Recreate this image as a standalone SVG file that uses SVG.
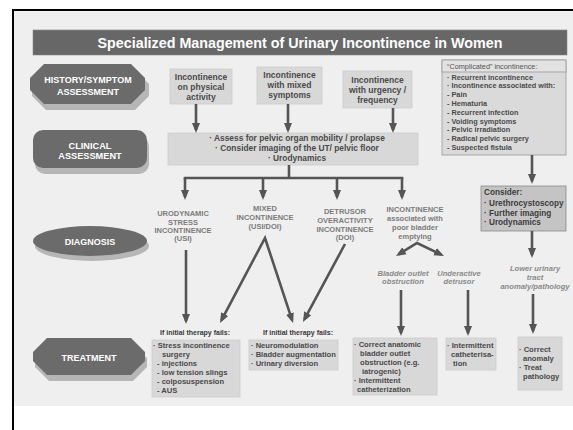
<svg xmlns="http://www.w3.org/2000/svg" width="573" height="430" viewBox="0 0 573 430">
<defs>
<style>
text{font-family:"Liberation Sans",Arial,sans-serif;font-weight:bold;fill:#4a4a4a}
.lab{fill:#fff;font-size:9px;text-anchor:middle}
.hdr{fill:#6b6b6b}
.shd{fill:#b6b6b6}
.box{fill:#d8d8d8;stroke:#cdcdcd;stroke-width:0.8}
.b1{font-size:8.5px;text-anchor:middle}
.cl{font-size:8.4px;text-anchor:middle}
.cx{font-size:7.3px}
.cs{font-size:8.2px;fill:#3c3c3c}
.dg{font-size:7.5px;text-anchor:middle;fill:#7c7c7c}
.it{font-size:7.6px;text-anchor:middle;fill:#8a8a8a;font-style:italic}
.tf{font-size:7px;fill:#3a3a3a}
.tb{font-size:7.6px}
.arr{stroke:#555;stroke-width:2.6;fill:none;marker-end:url(#ah)}
.ln{stroke:#555;stroke-width:2.6;fill:none}
</style>
<marker id="ah" viewBox="0 0 10 10" refX="7" refY="5" markerWidth="10" markerHeight="10" markerUnits="userSpaceOnUse" orient="auto-start-reverse">
<path d="M0,1 L10,5 L0,9 Z" fill="#555"/>
</marker>
</defs>
<rect x="0" y="0" width="573" height="430" fill="#fff"/>
<rect x="14" y="11" width="559" height="395" fill="#efefef"/>
<line x1="12" y1="10" x2="573" y2="10" stroke="#000" stroke-width="2"/>
<line x1="13" y1="9" x2="13" y2="430" stroke="#000" stroke-width="2"/>

<g id="title">
<rect x="33" y="30" width="534" height="25" fill="#676767" stroke="#888" stroke-width="0.6"/>
<text x="300" y="47.5" style="font-size:14.3px;fill:#fff;text-anchor:middle">Specialized Management of Urinary Incontinence in Women</text>
</g>

<g id="history-label">
<path class="shd" d="M46,70 L135,70 L149,84 L149,96 L135,110 L46,110 L32,96 L32,84 Z"/>
<path class="hdr" d="M44,64 L131,64 L145,78 L145,90 L131,104 L44,104 L30,90 L30,78 Z"/>
<text class="lab" x="88" y="83">HISTORY/SYMPTOM</text>
<text class="lab" x="88" y="95">ASSESSMENT</text>
</g>

<g id="clinical-label">
<rect class="shd" x="35" y="136" width="114" height="38" rx="10"/>
<rect class="hdr" x="33" y="130" width="114" height="38" rx="10"/>
<text class="lab" x="90" y="148.5" style="font-size:9.2px">CLINICAL</text>
<text class="lab" x="90" y="158.5" style="font-size:9.2px">ASSESSMENT</text>
</g>

<g id="diagnosis-label">
<ellipse class="shd" cx="92" cy="246" rx="57" ry="15"/>
<ellipse class="hdr" cx="90" cy="241" rx="57" ry="15"/>
<text class="lab" x="90" y="244.5">DIAGNOSIS</text>
</g>

<g id="treatment-label">
<path class="shd" d="M49,344 L133,344 L147,358 L147,367 L133,381 L49,381 L35,367 L35,358 Z"/>
<path class="hdr" d="M47,338 L131,338 L145,352 L145,361 L131,375 L47,375 L33,361 L33,352 Z"/>
<text class="lab" x="89" y="360.5">TREATMENT</text>
</g>

<g id="sym-physical">
<rect class="box" x="170" y="69" width="62" height="35"/>
<text class="b1" x="201" y="80">Incontinence</text>
<text class="b1" x="201" y="90">on physical</text>
<text class="b1" x="201" y="100">activity</text>
</g>
<g id="sym-mixed">
<rect class="box" x="257" y="67" width="65" height="37"/>
<text class="b1" x="289.5" y="78">Incontinence</text>
<text class="b1" x="289.5" y="88">with mixed</text>
<text class="b1" x="289.5" y="98">symptoms</text>
</g>
<g id="sym-urgency">
<rect class="box" x="343" y="71" width="69" height="37"/>
<text class="b1" x="377.5" y="83">Incontinence</text>
<text class="b1" x="377.5" y="93">with urgency /</text>
<text class="b1" x="377.5" y="103">frequency</text>
</g>

<g id="complicated">
<rect x="442" y="60" width="124" height="95" fill="#dadada" stroke="#9a9a9a" stroke-width="0.8"/>
<rect x="442" y="60" width="124" height="12" fill="#e2e2e2" stroke="#9a9a9a" stroke-width="0.8"/>
<text class="cx" x="447" y="69" style="font-weight:normal;fill:#555">“Complicated” incontinence:</text>
<text class="cx" x="447" y="79.6">· Recurrent incontinence</text>
<text class="cx" x="447" y="88.4">· Incontinence associated with:</text>
<text class="cx" x="447" y="97.2">- Pain</text>
<text class="cx" x="447" y="106">- Hematuria</text>
<text class="cx" x="447" y="114.8">- Recurrent infection</text>
<text class="cx" x="447" y="123.6">- Voiding symptoms</text>
<text class="cx" x="447" y="132.4">- Pelvic irradiation</text>
<text class="cx" x="447" y="141.2">- Radical pelvic surgery</text>
<text class="cx" x="447" y="150">- Suspected fistula</text>
</g>

<g id="clinical">
<rect class="box" x="168" y="133" width="250" height="32"/>
<text class="cl" x="297" y="141">· Assess for pelvic organ mobility / prolapse</text>
<text class="cl" x="297" y="151">· Consider imaging of the UT/ pelvic floor</text>
<text class="cl" x="297" y="161">· Urodynamics</text>
</g>

<g id="consider">
<rect x="481" y="186" width="85" height="45" fill="#c4c4c4" stroke="#8a8a8a" stroke-width="0.8"/>
<text class="cs" x="484" y="195">Consider:</text>
<text class="cs" x="484" y="206">· Urethrocystoscopy</text>
<text class="cs" x="484" y="215.5">· Further imaging</text>
<text class="cs" x="484" y="225">· Urodynamics</text>
</g>

<g id="dx-usi">
<text class="dg" x="183" y="215.7">URODYNAMIC</text>
<text class="dg" x="183" y="224.5">STRESS</text>
<text class="dg" x="183" y="233">INCONTINENCE</text>
<text class="dg" x="183" y="241">(USI)</text>
</g>
<g id="dx-mixed">
<text class="dg" x="265" y="210.7">MIXED</text>
<text class="dg" x="265" y="219.7">INCONTINENCE</text>
<text class="dg" x="265" y="228.7">(USI/DOI)</text>
</g>
<g id="dx-doi">
<text class="dg" x="345" y="213.7">DETRUSOR</text>
<text class="dg" x="345" y="222.7">OVERACTIVITY</text>
<text class="dg" x="345" y="231.7">INCONTINENCE</text>
<text class="dg" x="345" y="239.7">(DOI)</text>
</g>
<g id="dx-poor">
<text class="dg" x="415" y="211.7">INCONTINENCE</text>
<text class="dg" x="415" y="220.7">associated with</text>
<text class="dg" x="415" y="229.7">poor bladder</text>
<text class="dg" x="415" y="238.7">emptying</text>
</g>
<g id="dx-outlet">
<text class="it" x="403" y="275.7">Bladder outlet</text>
<text class="it" x="403" y="284">obstruction</text>
</g>
<g id="dx-underactive">
<text class="it" x="459" y="275.7">Underactive</text>
<text class="it" x="459" y="284">detrusor</text>
</g>
<g id="dx-lut">
<text class="it" x="535" y="270.7">Lower urinary</text>
<text class="it" x="535" y="279.7">tract</text>
<text class="it" x="535" y="288.7">anomaly/pathology</text>
</g>

<g id="fail-1"><text class="tf" x="160" y="334.5">If initial therapy fails:</text></g>
<g id="fail-2"><text class="tf" x="263" y="334.5">If initial therapy fails:</text></g>

<g id="tx-stress">
<rect class="box" x="152" y="340" width="88" height="57"/>
<text class="tb" x="153" y="348">· Stress incontinence</text>
<text class="tb" x="162" y="357">surgery</text>
<text class="tb" x="157" y="366">- injections</text>
<text class="tb" x="157" y="375">- low tension slings</text>
<text class="tb" x="157" y="384">- colposuspension</text>
<text class="tb" x="157" y="393">- AUS</text>
</g>
<g id="tx-doi">
<rect class="box" x="249" y="340" width="89" height="30"/>
<text class="tb" x="251" y="348">· Neuromodulation</text>
<text class="tb" x="251" y="357">· Bladder augmentation</text>
<text class="tb" x="251" y="366">· Urinary diversion</text>
</g>
<g id="tx-outlet">
<rect class="box" x="353" y="338" width="84" height="57"/>
<text class="tb" x="354" y="346.7">· Correct anatomic</text>
<text class="tb" x="360" y="355.7">bladder outlet</text>
<text class="tb" x="360" y="364.7">obstruction (e.g.</text>
<text class="tb" x="362" y="373.7">iatrogenic)</text>
<text class="tb" x="354" y="382.7">· Intermittent</text>
<text class="tb" x="357" y="391.7">catheterization</text>
</g>
<g id="tx-underactive">
<rect class="box" x="446" y="338" width="50" height="32"/>
<text class="tb" x="447" y="347.7">· Intermittent</text>
<text class="tb" x="451" y="356.7">catheterisa-</text>
<text class="tb" x="453" y="365.7">tion</text>
</g>
<g id="tx-lut">
<rect class="box" x="518" y="337" width="44" height="53"/>
<text class="tb" x="519" y="351.7">· Correct</text>
<text class="tb" x="523" y="360.7">anomaly</text>
<text class="tb" x="519" y="369.7">· Treat</text>
<text class="tb" x="523" y="379">pathology</text>
</g>

<g id="connectors">
<path class="arr" d="M196,104 V130"/>
<path class="arr" d="M288,104 V130"/>
<path class="arr" d="M393,108 V130"/>
<path class="ln" d="M289,165 V178 M183.7,178 H403.3"/>
<path class="arr" d="M185,178 V197"/>
<path class="arr" d="M263,178 V197"/>
<path class="arr" d="M337,178 V197"/>
<path class="arr" d="M402,178 V197"/>
<path class="arr" d="M532,155 V181"/>
<path class="arr" d="M532,231 V255"/>
<path class="arr" d="M186,250 V321"/>
<path class="arr" d="M221.4,320.3 L265,238 L292.1,320.1" style="marker-start:url(#ah)"/>
<path class="arr" d="M345,244 L304.4,319.4"/>
<path class="arr" d="M398.5,254.4 L417,243 L441.3,254.7" style="marker-start:url(#ah)"/>
<path class="arr" d="M401,290 V333"/>
<path class="arr" d="M468,290 V333"/>
<path class="arr" d="M533,294 V331"/>
</g>
</svg>
